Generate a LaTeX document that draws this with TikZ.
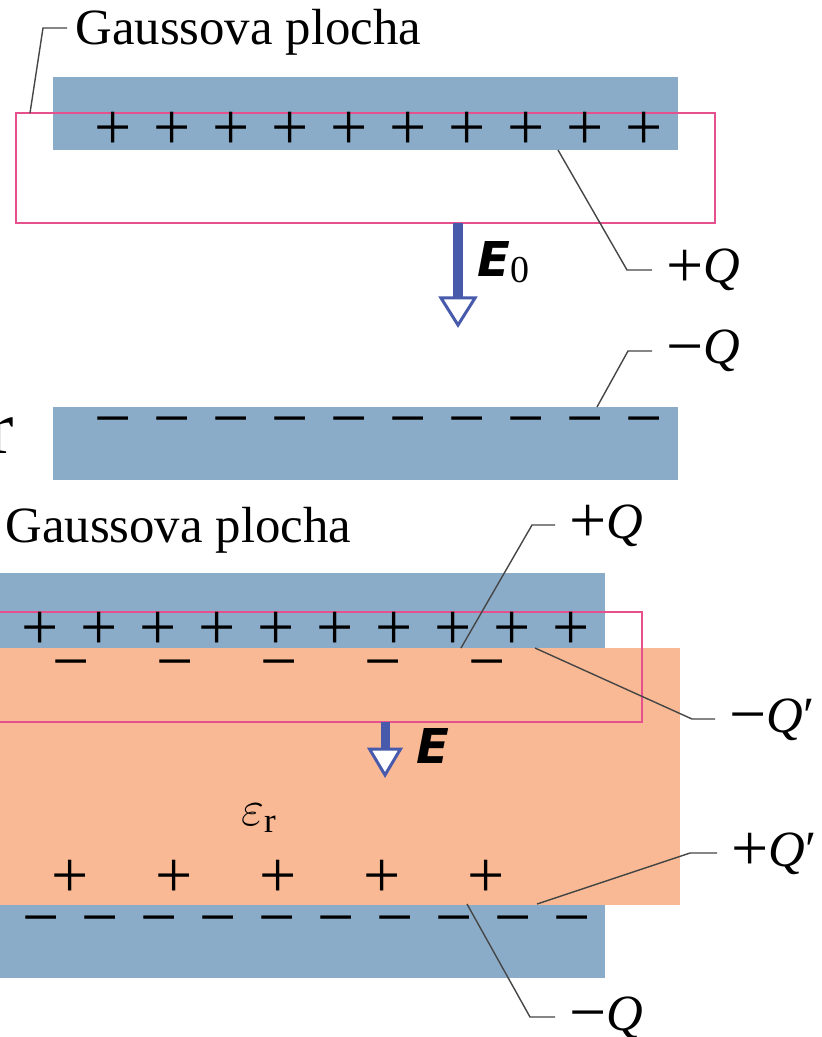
\documentclass[tikz,border=0pt]{standalone}
\usepackage{fontspec}
\setmainfont{Liberation Serif}
\newfontfamily\fieldfont{DejaVu Sans}
\usetikzlibrary{positioning}
\definecolor{plateblue}{RGB}{138,172,200}
\definecolor{dielorange}{RGB}{248,185,148}
\definecolor{gausspink}{RGB}{230,80,140}
\definecolor{fieldblue}{RGB}{72,90,172}
\definecolor{leadergray}{RGB}{70,70,70}
\newcommand{\tagsign}[1]{\raisebox{-2.3pt}{\fontsize{33}{33}\selectfont#1}}
\tikzset{
  plate/.style={fill=plateblue},
  dielectric/.style={fill=dielorange},
  gauss/.style={draw=gausspink,line width=1pt},
  leader/.style={draw=leadergray,line width=0.7pt},
  charge/.style={inner sep=0pt,font=\fontsize{33}{33}\selectfont,text height=16.7pt,text depth=0pt},
  tag/.style={anchor=base west,inner xsep=7pt,font=\fontsize{25.4}{30}\selectfont},
  gausstag/.style={tag,inner xsep=4pt},
  fieldtag/.style={anchor=base west,inner sep=0pt,font=\fontsize{24}{28}\selectfont},
  fieldhead/.style={draw=fieldblue,line width=1.5pt,fill=white,line join=miter},
}

\begin{document}
\begin{tikzpicture}[x=0.5pt,y=-0.5pt]
  \useasboundingbox (0,0) rectangle (821,1037);
  \clip (0,0) rectangle (821,1037);
  \fill[white] (0,0) rectangle (821,1037);

  % vacuum capacitor
  \fill[plate] (53,77) rectangle (678,150);
  \fill[plate] (53,407) rectangle (678,480);
  \draw[gauss] (16,113) rectangle (715,223);
  \foreach \i in {0,...,9} {
    \node[charge] (pA\i) at (113+59*\i,133) {+};
    \node[charge] (mA\i) at (113+59*\i,424) {−};
  }
  \fill[fieldblue] (453,223) rectangle (463,298);
  \draw[fieldhead] (441,298) -- (475,298) -- (458,325) -- cycle;
  \node[fieldtag] (eZero) at (477,277) {{\fieldfont\bfseries\itshape E}\raisebox{-3pt}{\fontsize{19}{20}\selectfont 0}};

  \node[gausstag] (gaussA) at (67,45) {Gaussova plocha};
  \node[tag] (qA) at (652,283) {\tagsign{+}\textit{Q}};
  \node[tag] (qB) at (652,364) {\tagsign{−}\textit{Q}};
  \node[anchor=base east,inner sep=0pt,font=\fontsize{38}{40}\selectfont] (cutR) at (14,453) {r};

  \coordinate (kA) at (43,28);
  \coordinate (kB) at (627,270);
  \coordinate (kC) at (628,351);
  \draw[leader] (30,113) -- (kA) -- (kA -| gaussA.west);
  \draw[leader] (558,150) -- (kB) -- (kB -| qA.west);
  \draw[leader] (597,407) -- (kC) -- (kC -| qB.west);

  % capacitor with dielectric
  \fill[plate] (-20,573) rectangle (605,648);
  \fill[dielectric] (-20,648) rectangle (680,905);
  \fill[plate] (-20,905) rectangle (605,978);
  \draw[gauss] (-20,612) rectangle (642,722);
  \foreach \i in {0,...,9} {
    \node[charge] (pB\i) at (40+59*\i,633) {+};
    \node[charge] (mB\i) at (41+59*\i,923) {−};
  }
  \foreach \i in {0,...,4} {
    \node[charge] (mD\i) at (71+104*\i,667) {−};
    \node[charge] (pD\i) at (70+104*\i,881) {+};
  }
  \fill[fieldblue] (380.5,722) rectangle (389.5,749);
  \draw[fieldhead] (369.5,749) -- (400.5,749) -- (385,775) -- cycle;
  \node[fieldtag] (eDiel) at (416,763) {\fieldfont\bfseries\itshape E};
  \node[fieldtag,font=\fontsize{25}{30}\selectfont] (epsR) at (241,825) {$\varepsilon_{\mathrm{r}}$};

  \node[gausstag] (gaussB) at (-3,542) {Gaussova plocha};
  \node[tag] (qC) at (555,538) {\tagsign{+}\textit{Q}};
  \node[tag] (qD) at (715,732) {\tagsign{−}\textit{Q}′};
  \node[tag] (qE) at (717,866) {\tagsign{+}\textit{Q}′};
  \node[tag] (qF) at (555,1030) {\tagsign{−}\textit{Q}};

  \coordinate (kD) at (532,525);
  \coordinate (kE) at (692,719);
  \coordinate (kF) at (690,853);
  \coordinate (kG) at (530,1017);
  \draw[leader] (461,648) -- (kD) -- (kD -| qC.west);
  \draw[leader] (535,648) -- (kE) -- (kE -| qD.west);
  \draw[leader] (537,904) -- (kF) -- (kF -| qE.west);
  \draw[leader] (467,904) -- (kG) -- (kG -| qF.west);
\end{tikzpicture}
\end{document}
